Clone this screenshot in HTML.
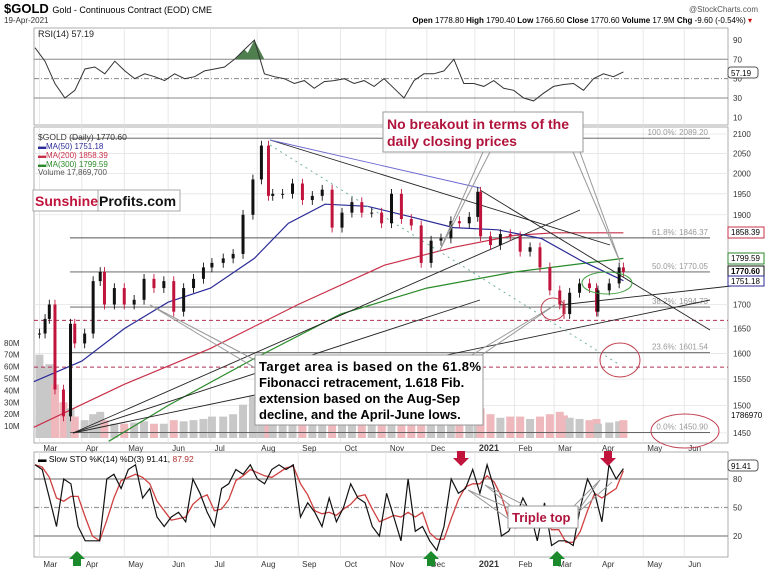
<!DOCTYPE html>
<html><head><meta charset="utf-8">
<style>
body{margin:0;background:#fff;width:765px;height:572px;overflow:hidden;font-family:"Liberation Sans",sans-serif}
svg{display:block}
</style></head>
<body>
<svg id="c" width="765" height="572" viewBox="0 0 765 572" xmlns="http://www.w3.org/2000/svg">
<text x="4" y="13" font-size="13" font-weight="bold">$GOLD <tspan font-size="9" font-weight="normal">Gold - Continuous Contract (EOD) CME</tspan></text>
<text x="4" y="23" font-size="8" fill="#333">19-Apr-2021</text>
<text x="758" y="12" font-size="8" fill="#555" text-anchor="end">@StockCharts.com</text>
<text x="752" y="23" font-size="8" text-anchor="end"><tspan font-weight="bold">Open</tspan> 1778.80 <tspan font-weight="bold">High</tspan> 1790.40 <tspan font-weight="bold">Low</tspan> 1766.60 <tspan font-weight="bold">Close</tspan> 1770.60 <tspan font-weight="bold">Volume</tspan> 17.9M <tspan font-weight="bold">Chg</tspan> -9.60 (-0.54%) <tspan fill="#c00">▾</tspan></text>
<g id="g"></g>
</svg>
<script>
// ---- data ----
const dates=["2020-03-02","2020-03-06","2020-03-09","2020-03-13","2020-03-19","2020-03-24","2020-03-27","2020-04-03","2020-04-09","2020-04-14","2020-04-17","2020-04-24","2020-05-01","2020-05-08","2020-05-15","2020-05-22","2020-05-29","2020-06-05","2020-06-12","2020-06-19","2020-06-26","2020-07-02","2020-07-10","2020-07-17","2020-07-24","2020-07-31","2020-08-06","2020-08-11","2020-08-14","2020-08-21","2020-08-28","2020-09-04","2020-09-11","2020-09-18","2020-09-25","2020-10-02","2020-10-09","2020-10-16","2020-10-23","2020-10-30","2020-11-06","2020-11-13","2020-11-20","2020-11-27","2020-12-04","2020-12-11","2020-12-18","2020-12-24","2020-12-31","2021-01-06","2021-01-08","2021-01-15","2021-01-22","2021-01-29","2021-02-05","2021-02-12","2021-02-19","2021-02-26","2021-03-05","2021-03-08","2021-03-12","2021-03-19","2021-03-26","2021-03-31","2021-04-01","2021-04-09","2021-04-16","2021-04-19"];
const closes=[1640,1670,1700,1530,1480,1660,1620,1640,1750,1770,1700,1735,1700,1710,1755,1735,1750,1685,1735,1755,1780,1790,1800,1810,1900,1985,2070,1945,1950,1950,1975,1935,1945,1960,1870,1905,1930,1905,1905,1880,1950,1890,1875,1790,1840,1845,1885,1880,1895,1955,1850,1830,1855,1850,1815,1825,1780,1730,1700,1680,1725,1745,1735,1685,1730,1745,1780,1770];
const volumes=[70,60,62,45,30,25,18,15,20,22,15,12,12,13,14,12,12,15,14,15,16,18,18,20,28,35,40,32,25,22,20,18,18,18,22,18,17,16,16,17,22,18,16,18,16,16,15,12,14,22,25,20,17,18,18,16,18,20,22,19,17,16,15,16,12,13,14,15];
const ma50Dates=["2020-02-27","2020-04-01","2020-05-01","2020-06-01","2020-07-01","2020-08-01","2020-08-25","2020-09-20","2020-10-20","2020-11-20","2020-12-20","2021-01-20","2021-02-20","2021-03-20","2021-04-19"];
const ma50=[1545,1585,1650,1705,1735,1800,1880,1925,1920,1895,1870,1865,1845,1795,1751];
const ma200Dates=["2020-02-27","2020-05-01","2020-07-01","2020-09-01","2020-11-01","2020-12-20","2021-02-01","2021-03-01","2021-04-19"];
const ma200=[1460,1540,1610,1700,1785,1825,1852,1858,1858];
const ma300Dates=["2020-04-20","2020-06-01","2020-08-01","2020-10-01","2020-12-01","2021-02-01","2021-04-19"];
const ma300=[1435,1500,1590,1680,1735,1770,1800];
const rsi=[82,68,45,30,38,60,62,55,68,58,50,55,52,48,55,50,52,58,60,62,70,80,90,55,52,50,45,48,40,47,48,50,45,48,42,50,40,30,48,55,55,58,70,45,45,42,48,40,38,30,27,35,42,44,45,38,50,55,52,57];
const stoK=[95,90,60,30,80,75,30,15,15,15,80,85,70,90,95,60,70,40,30,40,45,35,80,65,45,30,70,75,90,85,95,80,75,90,95,90,95,40,55,45,30,60,35,50,75,60,55,30,20,65,40,15,80,25,30,15,5,30,80,65,70,90,65,95,70,20,25,40,60,45,15,55,10,15,15,10,50,80,65,35,95,80,91];
const priceTicks=[2100,2050,2000,1950,1900,1700,1650,1600,1550,1500,1450];
const volTicks=[80,70,60,50,40,30,20,10];
const months=["Mar","Apr","May","Jun","Jul","Aug","Sep","Oct","Nov","Dec","2021","Feb","Mar","Apr","May","Jun"];
const monthStarts=["2020-03-02","2020-04-01","2020-05-01","2020-06-01","2020-07-01","2020-08-03","2020-09-01","2020-10-01","2020-11-02","2020-12-01","2021-01-04","2021-02-01","2021-03-01","2021-04-01","2021-05-03","2021-06-01"];
const fibLevels=[2089.20,1846.37,1770.05,1694.73,1601.54,1450.90];
const fibPct=["100.0%","61.8%","50.0%","38.2%","23.6%","0.0%"];
// ---- scales ----
const X0=34,X1=728;
const day0=Date.parse("2020-03-01");
const xd=s=>38+1.414*(Date.parse(s)-day0)/864e5;
const yp=p=>134+807*(Math.log(2100)-Math.log(p));
const yv=v=>438-1.19*v;
const yr=v=>127-0.967*v;
const ys=v=>555-0.95*v;
const xEnd=xd("2021-04-19"), xStart=35;
const xi=(i,n)=>xStart+(xEnd-xStart)*i/(n-1);
const g=document.getElementById('g');
const NS="http://www.w3.org/2000/svg";
function el(t,a,p){const e=document.createElementNS(NS,t);for(const k in a)e.setAttribute(k,a[k]);(p||g).appendChild(e);return e;}
function txt(x,y,s,a){const e=el('text',Object.assign({x:x,y:y,'font-size':8},a||{}));e.textContent=s;return e;}
// panels
const panels=[[28,125],[127,443],[452,557]];
panels.forEach((p,i)=>{const r=el('rect',{x:X0,y:p[0],width:X1-X0,height:p[1]-p[0],fill:'#fff',stroke:'#999','stroke-width':0.8});

});
// month grid + labels
monthStarts.forEach((m,i)=>{const x=xd(m);
 panels.forEach(p=>{el('line',{x1:x,x2:x,y1:p[0],y2:p[1],stroke:'#e2e2e2','stroke-width':0.8});});
 [451,567].forEach(y=>{const t=txt(x+4,y,months[i],{'font-size':i==10?9:8,'font-weight':i==10?'bold':'normal',fill:'#333'});
 
 });
});
// price grid
priceTicks.forEach(p=>{const y=yp(p);el('line',{x1:X0,x2:X1,y1:y,y2:y,stroke:'#e4e4e4','stroke-width':0.8});
 const t=txt(733,y+3,String(p),{fill:'#333'});
 
 });
volTicks.forEach(v=>{const t=txt(4,yv(v)+3,v+'M',{fill:'#333'});
 
 });
// volume bars
closes.forEach((c,i)=>{const x=xd(dates[i]);const up=i==0||c>=closes[i-1];
 const r=el('rect',{x:x-4,y:yv(volumes[i]),width:8,height:438-yv(volumes[i]),fill:up?'#c8c8c8':'#efb8bc'});
 
 });
// fib lines
fibLevels.forEach((f,i)=>{const y=yp(f);el('line',{x1:70,x2:710,y1:y,y2:y,stroke:'#555','stroke-width':0.9});
 const t=txt(708,y-3,fibPct[i]+': '+f.toFixed(2),{fill:'#999','text-anchor':'end'});
 
 });
[1667,1573].forEach(p=>{const l=el('line',{x1:X0,x2:X1,y1:yp(p),y2:yp(p),stroke:'#b03050','stroke-width':1,'stroke-dasharray':'4,3'});
 
 });
// MAs
function line(ds,vs,col,name){const pts=vs.map((v,i)=>xd(ds[i]).toFixed(1)+','+yp(v).toFixed(1)).join(' ');
 const l=el('polyline',{points:pts,fill:'none',stroke:col,'stroke-width':1.2});
 
 }
line(ma200Dates,ma200,'#c8304a','ma200-line');
line(ma300Dates,ma300,'#2a8a2a','ma300-line');
line(ma50Dates,ma50,'#2b2b99','ma50-line');
// trend lines
[[73,433,710,300],[73,433,580,210],[73,433,480,300],[270,140,610,245],[270,140,480,188],[480,190,710,330],[270,145,620,365],[560,305,740,285]].forEach((s,i)=>{
 const l=el('line',{x1:s[0],y1:s[1],x2:s[2],y2:s[3],stroke:i==4?'#6a6ad0':'#222','stroke-width':0.9,'stroke-dasharray':i==6?'2,4':'none'});
 if(i==6)l.setAttribute('stroke','#6a9');
 
 });
// candles
closes.forEach((c,i)=>{const x=xd(dates[i]);const o=i?closes[i-1]:c;const up=c>=o;
 const hi=Math.max(o,c)*1.006,lo=Math.min(o,c)*0.994;
 const col=up?'#111':'#c0143c';
 el('line',{x1:x,x2:x,y1:yp(hi),y2:yp(lo),stroke:col,'stroke-width':0.9});
 const r=el('rect',{x:x-1.5,y:yp(Math.max(o,c)),width:3,height:Math.max(1,yp(Math.min(o,c))-yp(Math.max(o,c))),fill:col});
 
 });
// RSI
[[70,'#888','none'],[50,'#888','5,2,1,2'],[30,'#888','none']].forEach(a=>el('line',{x1:X0,x2:X1,y1:yr(a[0]),y2:yr(a[0]),stroke:a[1],'stroke-width':1,'stroke-dasharray':a[2]}));
[90,70,50,30,10].forEach(v=>{const t=txt(733,yr(v)+3,String(v),{fill:'#333'});
 
 });
rsi.forEach((v,i)=>{if(v>70&&i>0){const x=xi(i,rsi.length);el('polygon',{points:`${xi(i-1,rsi.length)},${yr(70)} ${x},${yr(v)} ${xi(i+1,rsi.length)},${yr(70)}`,fill:'#4f7f4f'});}});
const rp=rsi.map((v,i)=>xi(i,rsi.length).toFixed(1)+','+yr(v).toFixed(1)).join(' ');
const rl=el('polyline',{points:rp,fill:'none',stroke:'#333','stroke-width':1});


txt(38,37,'RSI(14) 57.19',{'font-size':9,fill:'#222'});
// STO
[[80,'#888','none'],[50,'#999','5,2,1,2'],[20,'#888','none']].forEach(a=>el('line',{x1:X0,x2:X1,y1:ys(a[0]),y2:ys(a[0]),stroke:a[1],'stroke-width':1.2,'stroke-dasharray':a[2]}));
[80,50,20].forEach(v=>{const t=txt(733,ys(v)+3,String(v),{fill:'#333'});
 
 });
const stoD=stoK.map((v,i)=>{const a=stoK.slice(Math.max(0,i-2),i+1);return a.reduce((s,x)=>s+x,0)/a.length;});
const dl=el('polyline',{points:stoD.map((v,i)=>xi(i,stoK.length).toFixed(1)+','+ys(v).toFixed(1)).join(' '),fill:'none',stroke:'#d04040','stroke-width':1.3});


const kl=el('polyline',{points:stoK.map((v,i)=>xi(i,stoK.length).toFixed(1)+','+ys(v).toFixed(1)).join(' '),fill:'none',stroke:'#111','stroke-width':1.2});


txt(38,462,'▬ Slow STO %K(14) %D(3) 91.41, ',{'font-size':8.5}).appendChild(Object.assign(document.createElementNS(NS,'tspan'),{textContent:'87.92'})).setAttribute('fill','#b03030');
</script>
<svg width="765" height="572" viewBox="0 0 765 572" style="position:absolute;left:0;top:0">
<g font-family="Liberation Sans,sans-serif">
<text x="38" y="140" font-size="8.5" fill="#333">$GOLD (Daily) 1770.60</text>
<text x="38" y="149" font-size="8" fill="#2b2b99">▬MA(50) 1751.18</text>
<text x="38" y="158" font-size="8" fill="#c8304a">▬MA(200) 1858.39</text>
<text x="38" y="167" font-size="8" fill="#2a8a2a">▬MA(300) 1799.59</text>
<text x="38" y="175" font-size="8" fill="#555">Volume 17,869,700</text>
<rect x="33" y="190" width="65" height="21" fill="#fff" stroke="#aaa"/>
<rect x="98" y="190" width="82" height="21" fill="#fff" stroke="#aaa"/>
<text x="35" y="206" font-size="14" font-weight="bold" fill="#c0143c">Sunshine</text>
<text x="99" y="206" font-size="14" font-weight="bold" fill="#111">Profits.com</text>
<polyline points="483,152 440,250 490,152" fill="none" stroke="#999"/>
<polyline points="573,152 620,262 580,152" fill="none" stroke="#999"/>
<rect x="383" y="112" width="200" height="40" fill="#fff" stroke="#999"/>
<text x="387" y="129" font-size="14" font-weight="bold" fill="#b0143c">No breakout in terms of the</text>
<text x="387" y="146" font-size="14" font-weight="bold" fill="#b0143c">daily closing prices</text>
<polyline points="255,360 150,305 255,368" fill="none" stroke="#999"/>
<polyline points="470,356 555,305 480,356" fill="none" stroke="#999"/>
<rect x="255" y="355" width="228" height="70" fill="#fff" stroke="#999"/>
<text x="259" y="371" font-size="13" font-weight="bold" textLength="222">Target area is based on the 61.8%</text>
<text x="259" y="387" font-size="13" font-weight="bold">Fibonacci retracement, 1.618 Fib.</text>
<text x="259" y="403" font-size="13" font-weight="bold">extension based on the Aug-Sep</text>
<text x="259" y="419" font-size="13" font-weight="bold">decline, and the April-June lows.</text>
<ellipse cx="620" cy="360" rx="20" ry="17" fill="none" stroke="#c04050"/>
<ellipse cx="685" cy="431" rx="34" ry="17" fill="none" stroke="#c04050"/>
<ellipse cx="607" cy="283" rx="25" ry="11" fill="none" stroke="#40a040"/>
<ellipse cx="553" cy="309" rx="12" ry="11" fill="none" stroke="#c04050"/>
<rect x="728" y="227" width="36" height="11" fill="#fff" stroke="#c8304a"/>
<text x="731" y="235" font-size="8">1858.39</text>
<rect x="728" y="253" width="36" height="11" fill="#fff" stroke="#2a8a2a"/>
<text x="731" y="261" font-size="8">1799.59</text>
<rect x="728" y="266" width="36" height="11" fill="#fff" stroke="#111"/>
<text x="731" y="274" font-size="8" font-weight="bold">1770.60</text>
<rect x="728" y="276" width="36" height="10" fill="#fff" stroke="#2b2b99"/>
<text x="731" y="284" font-size="8">1751.18</text>
<text x="731" y="418" font-size="8">1786970</text>
<rect x="728" y="67" width="30" height="11" fill="#fff" stroke="#555" rx="3"/>
<text x="731" y="76" font-size="8">57.19</text>
<rect x="728" y="460" width="30" height="11" fill="#fff" stroke="#555" rx="3"/>
<text x="731" y="469" font-size="8">91.41</text>
<polyline points="510,520 468,490 518,512 485,485 530,508" fill="none" stroke="#999"/>
<polyline points="570,510 600,480 575,515 612,482" fill="none" stroke="#999"/>
<rect x="508" y="506" width="70" height="22" fill="#fff" stroke="#999"/>
<text x="512" y="522" font-size="13" font-weight="bold" fill="#b0143c">Triple top</text>
<path d="M457,451h8v7h4l-8,8l-8,-8h4z" fill="#c0143c"/>
<path d="M604,451h8v7h4l-8,8l-8,-8h4z" fill="#c0143c"/>
<path d="M73,566h8v-7h4l-8,-8l-8,8h4z" fill="#1a8a2a"/>
<path d="M427,566h8v-7h4l-8,-8l-8,8h4z" fill="#1a8a2a"/>
<path d="M553,566h8v-7h4l-8,-8l-8,8h4z" fill="#1a8a2a"/>
</g></svg>
</body></html>
